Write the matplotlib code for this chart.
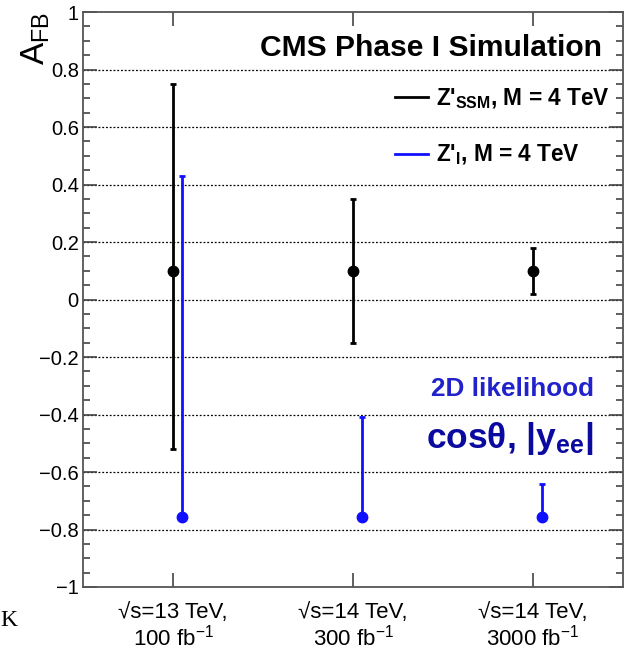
import matplotlib
matplotlib.use('Agg')
import matplotlib.pyplot as plt
from matplotlib.lines import Line2D
from matplotlib.ticker import MultipleLocator
import numpy as np

# Datos
scenarios = ['√s=13 TeV,\n100 fb$^{-1}$', '√s=14 TeV,\n300 fb$^{-1}$', '√s=14 TeV,\n3000 fb$^{-1}$']
ssm_val = [0.10, 0.10, 0.10]
ssm_up = [0.75, 0.35, 0.18]
ssm_down = [-0.52, -0.15, 0.02]
psi_val = [-0.755, -0.755, -0.755]
psi_up = [0.43, -0.41, -0.643]
ytick_labels = ['−1', '−0.8', '−0.6', '−0.4', '−0.2', '0', '0.2', '0.4', '0.6', '0.8', '1']

plt.rcParams['font.family'] = ['Liberation Sans', 'DejaVu Sans']
plt.rcParams['mathtext.fontset'] = 'custom'
plt.rcParams['mathtext.rm'] = 'Liberation Sans'
plt.rcParams['mathtext.it'] = 'Liberation Sans:italic'
plt.rcParams['mathtext.bf'] = 'Liberation Sans:bold'

fig = plt.figure(figsize=(6.31, 6.5), dpi=100)
ax = fig.add_axes([83 / 631., 1 - 587 / 650., (623 - 83) / 631., (587 - 12) / 650.])

x = np.arange(len(scenarios))
off = 0.05

# Z'_SSM
ssm_val = np.array(ssm_val)
yerr_ssm = [ssm_val - np.array(ssm_down), np.array(ssm_up) - ssm_val]
ax.errorbar(x, ssm_val, yerr=yerr_ssm, fmt='o', color='black', ms=7.5,
            elinewidth=2.0, capsize=2.5, capthick=2.0, zorder=3)

# Z'_psi
psi_val = np.array(psi_val)
yerr_psi = [np.zeros(len(psi_val)), np.array(psi_up) - psi_val]
ax.errorbar(x + off, psi_val, yerr=yerr_psi, fmt='o', color='#1010ff', ms=7.5,
            elinewidth=2.0, capsize=2.5, capthick=2.0, zorder=3)

ax.set_xlim(-0.5, 2.5)
ax.set_ylim(-1, 1)
ax.set_xticks(x)
ax.set_xticklabels(scenarios, fontsize=16, linespacing=1.05)
ax.yaxis.set_minor_locator(MultipleLocator(0.05))
ax.set_yticks(np.arange(-1, 1.01, 0.2))
ax.set_yticklabels(ytick_labels)
ax.tick_params(axis='both', which='both', direction='in', top=True, right=True,
               labelsize=14.5, color='#444444')
ax.tick_params(axis='x', labelsize=16)
ax.tick_params(axis='both', which='major', length=10, width=1.2)
ax.tick_params(axis='both', which='minor', length=5, width=1.2)
ax.tick_params(axis='x', pad=11)
ax.tick_params(axis='y', pad=3)
for s in ax.spines.values():
    s.set_color('#555555')
    s.set_linewidth(1.3)

# Rejilla punteada
for yg in np.arange(-0.8, 0.81, 0.2):
    ax.axhline(yg, color='black', lw=0.9, ls=(0, (1.5, 1.5)), zorder=1)

ax.set_ylabel('A$_{\\mathrm{FB}}$', fontsize=24, loc='top', labelpad=0)
ax.yaxis.set_label_coords(-0.0565, 1.0)

ax.text(0.961, 0.937, 'CMS Phase I Simulation', transform=ax.transAxes,
        ha='right', va='center', fontsize=21.6, fontweight='bold')

handles = [Line2D([], [], color='black', lw=2),
           Line2D([], [], color='#1010ff', lw=2)]
labels = ["Z'$_{\\mathbf{SSM}}$, M = 4 TeV", "Z'$_{\\mathbf{I}}$, M = 4 TeV"]
leg = ax.legend(handles, labels, loc='upper left', bbox_to_anchor=(0.561, 0.887),
                frameon=False, handlelength=1.45, handletextpad=0.36,
                labelspacing=1.4, borderaxespad=0,
                prop={'weight': 'bold', 'size': 16.3})

ax.text(0.946, 0.345, '2D likelihood', transform=ax.transAxes, ha='right',
        va='center', fontsize=18.8, fontweight='bold', color='#2222cc')
ax.text(0.946, 0.258, 'cosθ, |y$_{\\mathbf{ee}}$|', transform=ax.transAxes, ha='right',
        va='center', fontsize=25.5, fontweight='bold', color='#0a0aa0')

# Texto recortado en el borde
fig.text(0.0, 0.045, 'K', fontsize=17, family='Liberation Serif', ha='left', va='center')

fig.savefig('out.png', dpi=100)
